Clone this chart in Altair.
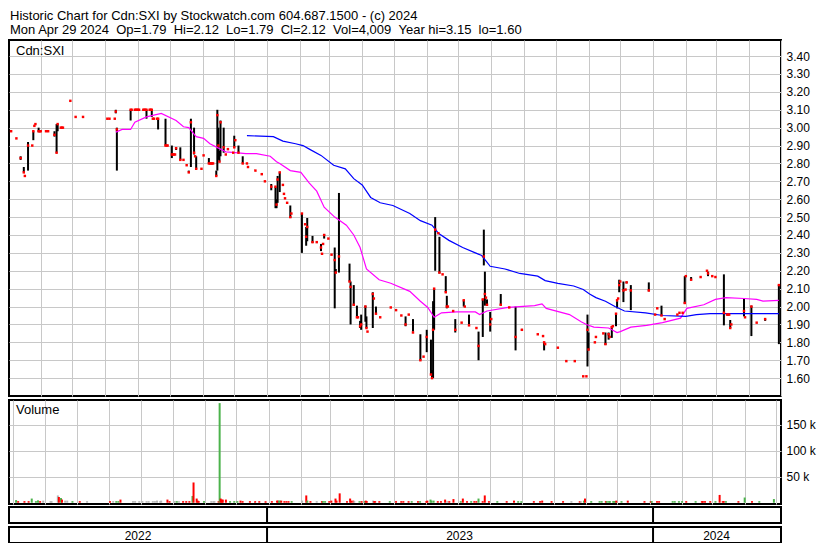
import altair as alt
import pandas as pd

FONT = "Liberation Sans"

# ---------------- price: daily closes ----------------
close_days = [
    "2022-05-04", "2022-05-09", "2022-05-13", "2022-05-16", "2022-05-17", "2022-05-20", "2022-05-24", "2022-05-25", "2022-05-26", "2022-05-27", "2022-05-30", "2022-05-31",
    "2022-06-01", "2022-06-06", "2022-06-08", "2022-06-14", "2022-06-16", "2022-06-17", "2022-06-20", "2022-06-21", "2022-06-22", "2022-06-29",
    "2022-07-04", "2022-07-11",
    "2022-08-03", "2022-08-05", "2022-08-10", "2022-08-11", "2022-08-12", "2022-08-25", "2022-08-26", "2022-08-29", "2022-08-30", "2022-08-31",
    "2022-09-01", "2022-09-02", "2022-09-06", "2022-09-07", "2022-09-08", "2022-09-09", "2022-09-12", "2022-09-13", "2022-09-14", "2022-09-15", "2022-09-16", "2022-09-19", "2022-09-20", "2022-09-27", "2022-09-28", "2022-09-29",
    "2022-10-03", "2022-10-04", "2022-10-05", "2022-10-06", "2022-10-07", "2022-10-11", "2022-10-14", "2022-10-17", "2022-10-19", "2022-10-21", "2022-10-24", "2022-10-25", "2022-10-26", "2022-10-31",
    "2022-11-02", "2022-11-07", "2022-11-08", "2022-11-09", "2022-11-10", "2022-11-11", "2022-11-14", "2022-11-15", "2022-11-16", "2022-11-17", "2022-11-18", "2022-11-21", "2022-11-23", "2022-11-25", "2022-11-30",
    "2022-12-01", "2022-12-02", "2022-12-05", "2022-12-09", "2022-12-13", "2022-12-14", "2022-12-21", "2022-12-27", "2022-12-30",
    "2023-01-05", "2023-01-09", "2023-01-10", "2023-01-11", "2023-01-13", "2023-01-16", "2023-01-17", "2023-01-18", "2023-01-20", "2023-01-23", "2023-01-24",
    "2023-02-03", "2023-02-06", "2023-02-07", "2023-02-08", "2023-02-13", "2023-02-17", "2023-02-21", "2023-02-22", "2023-02-23", "2023-02-24", "2023-02-28",
    "2023-03-03", "2023-03-06", "2023-03-07", "2023-03-10", "2023-03-20", "2023-03-21", "2023-03-24", "2023-03-27", "2023-03-28", "2023-03-30", "2023-03-31",
    "2023-04-04", "2023-04-05", "2023-04-06", "2023-04-11", "2023-04-12", "2023-04-14", "2023-04-18", "2023-04-28",
    "2023-05-03", "2023-05-08", "2023-05-12", "2023-05-15", "2023-05-19", "2023-05-26", "2023-05-29",
    "2023-06-01", "2023-06-05", "2023-06-06", "2023-06-07", "2023-06-08", "2023-06-09", "2023-06-12", "2023-06-13", "2023-06-16", "2023-06-19", "2023-06-20", "2023-06-21", "2023-06-26", "2023-06-28",
    "2023-07-04", "2023-07-06", "2023-07-07", "2023-07-11", "2023-07-18", "2023-07-20", "2023-07-24", "2023-07-25", "2023-07-26", "2023-07-27", "2023-07-28", "2023-07-31",
    "2023-08-01", "2023-08-10", "2023-08-18", "2023-08-24", "2023-08-30",
    "2023-09-14", "2023-09-19", "2023-09-20", "2023-09-21",
    "2023-10-03", "2023-10-11", "2023-10-19", "2023-10-27", "2023-10-30", "2023-10-31",
    "2023-11-01", "2023-11-07", "2023-11-08", "2023-11-15", "2023-11-17", "2023-11-20", "2023-11-21", "2023-11-23", "2023-11-24", "2023-11-27", "2023-11-28", "2023-11-29", "2023-11-30",
    "2023-12-01", "2023-12-04", "2023-12-06", "2023-12-07", "2023-12-11", "2023-12-28",
    "2024-01-03", "2024-01-05", "2024-01-09", "2024-01-12", "2024-01-24", "2024-01-26", "2024-01-29", "2024-01-31",
    "2024-02-01", "2024-02-06", "2024-02-15", "2024-02-21", "2024-02-22", "2024-02-26", "2024-02-29",
    "2024-03-08", "2024-03-11", "2024-03-12", "2024-03-13", "2024-03-14", "2024-03-15", "2024-03-27", "2024-03-28",
    "2024-04-03", "2024-04-08", "2024-04-16", "2024-04-29",
]
close_vals = [
    2.98, 2.94, 2.83, 2.75, 2.73, 2.90, 2.90, 2.98, 3.01, 3.02, 2.98, 2.98,
    2.98, 2.98, 2.98, 2.96, 2.86, 3.02, 3.00, 3.00, 3.00, 3.15,
    3.06, 3.06,
    3.05, 3.05, 3.05, 3.09, 2.99, 3.10, 3.10, 3.10, 3.10, 3.10,
    3.10, 3.10, 3.10, 3.10, 3.10, 3.10, 3.10, 3.10, 3.10, 3.05, 3.05, 3.05, 3.05, 2.90, 2.90, 2.90,
    2.85, 2.85, 2.85, 2.85, 2.885, 2.82, 2.82, 2.79, 2.75, 3.03, 2.86, 2.84, 2.77, 2.77,
    2.845, 2.80, 2.80, 2.80, 2.80, 2.80, 2.73, 3.07, 2.90, 2.81, 3.03, 2.89, 2.85, 2.88, 2.86,
    2.89, 2.93, 2.86, 2.80, 2.80, 2.78, 2.76, 2.74, 2.70,
    2.67, 2.67, 2.57, 2.71, 2.75, 2.68, 2.63, 2.605, 2.58, 2.50, 2.52,
    2.52, 2.46, 2.39, 2.445, 2.36, 2.36, 2.33, 2.295, 2.35, 2.40, 2.38,
    2.29, 2.26, 2.19, 2.28, 2.14, 2.11, 2.01, 1.94, 1.94, 1.89, 1.90,
    2.00, 1.88, 1.86, 2.07, 2.045, 1.96, 1.94, 1.995,
    1.98, 1.95, 1.90, 1.955, 1.855, 1.70, 1.72,
    1.83, 1.62, 1.60, 1.87, 2.10, 2.43, 2.41, 2.19, 2.18, 2.08, 2.00, 2.00, 1.975, 1.87,
    1.91, 2.035, 2.00, 1.895, 1.88, 1.78, 2.04, 2.28, 2.07, 2.05, 2.01, 1.90,
    1.93, 2.01, 1.995, 1.83, 1.87,
    1.845, 1.835, 1.80, 1.79,
    1.77, 1.695, 1.695, 1.61, 1.61, 1.87,
    1.76, 1.80, 1.83, 1.85, 1.79, 1.845, 1.83, 1.885, 1.89, 1.96, 2.035, 2.045, 2.12,
    2.14, 2.09, 2.095, 2.135, 2.09, 2.09,
    1.955, 1.99, 1.95, 1.93, 1.955, 1.965, 1.965, 2.02,
    2.17, 2.15, 2.165, 2.20, 2.185, 2.17, 2.165,
    1.965, 1.955, 1.955, 1.955, 1.88, 1.90, 1.975, 1.94,
    2.00, 1.91, 1.93, 2.12,
]

# ---------------- price: daily low-high ranges ----------------
bar_days = [
    "2022-05-13", "2022-05-16", "2022-05-20", "2022-05-25", "2022-05-30",
    "2022-06-14", "2022-06-16", "2022-06-17",
    "2022-08-11", "2022-08-12", "2022-08-25",
    "2022-09-09", "2022-09-14", "2022-09-20", "2022-09-27",
    "2022-10-03", "2022-10-07", "2022-10-11", "2022-10-19", "2022-10-21", "2022-10-24", "2022-10-26",
    "2022-11-07", "2022-11-14", "2022-11-15", "2022-11-16", "2022-11-17", "2022-11-18", "2022-11-21",
    "2022-12-01", "2022-12-05", "2022-12-09",
    "2023-01-05", "2023-01-09", "2023-01-10", "2023-01-11", "2023-01-13", "2023-01-23",
    "2023-02-03", "2023-02-07", "2023-02-08", "2023-02-13", "2023-02-21", "2023-02-24",
    "2023-03-06", "2023-03-07", "2023-03-10", "2023-03-20", "2023-03-21", "2023-03-24", "2023-03-27", "2023-03-30", "2023-03-31",
    "2023-04-04", "2023-04-05", "2023-04-11", "2023-04-14",
    "2023-05-12", "2023-05-19", "2023-05-26",
    "2023-06-01", "2023-06-05", "2023-06-06", "2023-06-07", "2023-06-08", "2023-06-09", "2023-06-13", "2023-06-19", "2023-06-20", "2023-06-28",
    "2023-07-06", "2023-07-11", "2023-07-20", "2023-07-24", "2023-07-25", "2023-07-26", "2023-07-28", "2023-07-31",
    "2023-08-10", "2023-08-24", "2023-08-30",
    "2023-09-20",
    "2023-10-31",
    "2023-11-01", "2023-11-17", "2023-11-20", "2023-11-23", "2023-11-27", "2023-11-28", "2023-11-30",
    "2023-12-04", "2023-12-07", "2023-12-11", "2023-12-28",
    "2024-01-09", "2024-01-31",
    "2024-02-06", "2024-02-22",
    "2024-03-08", "2024-03-14", "2024-03-27",
    "2024-04-03", "2024-04-16", "2024-04-29",
]
bar_lo = [
    2.82, 2.75, 2.76, 2.93, 2.975,
    2.95, 2.86, 2.98,
    3.08, 2.76, 3.04,
    3.05, 3.06, 2.99, 2.90,
    2.83, 2.875, 2.82, 2.75, 2.78, 2.85, 2.77,
    2.80, 2.73, 2.76, 2.82, 2.81, 2.84, 2.86,
    2.89, 2.86, 2.80,
    2.65, 2.55, 2.55, 2.58, 2.64, 2.495,
    2.30, 2.34, 2.365, 2.355, 2.31, 2.38,
    1.99, 2.19, 2.19, 2.14, 1.90, 2.005, 1.945, 1.88, 1.87,
    1.915, 1.88, 1.88, 1.96,
    1.89, 1.86, 1.70,
    1.745, 1.62, 1.60, 1.60, 1.87, 2.20, 2.185, 2.08, 1.99, 1.855,
    2.00, 1.90, 1.70, 1.83, 2.23, 2.005, 2.005, 1.86,
    2.005, 1.755, 1.865,
    1.755,
    1.665,
    1.755, 1.785, 1.815, 1.825, 1.89, 1.99, 2.08,
    2.025, 2.13, 1.98, 2.085,
    1.95, 2.015,
    2.15, 2.17,
    1.895, 1.88, 1.945,
    1.835, 1.92, 1.79,
]
bar_hi = [
    2.84, 2.78, 2.92, 2.98, 3.00,
    2.98, 3.02, 3.02,
    3.10, 3.00, 3.10,
    3.10, 3.10, 3.05, 3.05,
    2.90, 2.89, 2.89, 2.76, 3.05, 3.00, 2.84,
    2.83, 2.76, 3.10, 3.00, 2.87, 3.04, 3.00,
    2.955, 2.90, 2.84,
    2.685, 2.67, 2.60, 2.73, 2.75, 2.565,
    2.52, 2.445, 2.495, 2.395, 2.35, 2.405,
    2.33, 2.21, 2.635, 2.24, 2.14, 2.12, 2.005, 1.92, 1.955,
    2.005, 1.945, 2.08, 2.00,
    1.945, 1.93, 1.845,
    1.87, 1.815, 1.645, 2.03, 2.10, 2.50, 2.39, 2.17, 2.06, 1.93,
    2.035, 1.955, 1.86, 2.04, 2.43, 2.195, 2.04, 1.97,
    2.07, 2.00, 1.875,
    1.80,
    1.955,
    1.855, 1.855, 1.855, 1.89, 1.96, 2.03, 2.15,
    2.14, 2.14, 2.12, 2.135,
    2.005, 2.17,
    2.165, 2.195,
    2.18, 1.925, 2.045,
    2.005, 1.93, 2.12,
]

# ---------------- moving averages ----------------
ma_short_days = [
    "2022-08-11", "2022-08-17", "2022-08-25", "2022-08-29", "2022-09-09", "2022-09-23", "2022-10-07", "2022-10-14",
    "2022-10-19", "2022-10-26", "2022-11-02", "2022-11-08", "2022-11-18", "2022-11-23", "2022-12-02", "2022-12-12",
    "2022-12-22", "2023-01-04", "2023-01-10", "2023-01-13", "2023-01-23", "2023-02-02", "2023-02-10", "2023-02-17",
    "2023-02-24", "2023-03-06", "2023-03-17", "2023-03-24", "2023-03-30", "2023-04-05", "2023-04-17", "2023-04-28",
    "2023-05-16", "2023-05-26", "2023-06-02", "2023-06-08", "2023-06-15", "2023-06-29", "2023-07-17", "2023-07-21",
    "2023-07-28", "2023-08-17", "2023-09-11", "2023-09-18", "2023-09-22", "2023-10-14", "2023-10-25", "2023-10-30",
    "2023-11-06", "2023-11-20", "2023-11-28", "2023-12-01", "2023-12-11", "2023-12-26", "2024-01-10", "2024-01-27",
    "2024-02-02", "2024-02-18", "2024-02-29", "2024-03-10", "2024-03-27", "2024-04-08", "2024-04-14", "2024-04-29",
]
ma_short_vals = [
    2.975, 2.99, 2.99, 3.03, 3.06, 3.08, 3.04, 3.005,
    3.00, 2.95, 2.94, 2.91, 2.88, 2.865, 2.86, 2.855,
    2.855, 2.84, 2.81, 2.80, 2.76, 2.75, 2.69, 2.645,
    2.555, 2.50, 2.455, 2.40, 2.33, 2.21, 2.15, 2.13,
    2.085, 2.03, 1.995, 1.94, 1.965, 1.97, 1.97, 1.955,
    1.975, 1.995, 2.005, 2.015, 1.99, 1.955, 1.915, 1.90,
    1.885, 1.88, 1.855, 1.86, 1.885, 1.895, 1.91, 1.935,
    1.99, 2.01, 2.04, 2.05, 2.045, 2.04, 2.03, 2.035,
]
ma_long_days = [
    "2022-12-13", "2023-01-07", "2023-01-16", "2023-01-28", "2023-02-04", "2023-02-10", "2023-02-21", "2023-03-05",
    "2023-03-16", "2023-03-24", "2023-04-01", "2023-04-09", "2023-04-18", "2023-04-30", "2023-05-16", "2023-05-26",
    "2023-06-06", "2023-06-12", "2023-06-22", "2023-07-05", "2023-07-17", "2023-07-23", "2023-07-31", "2023-08-14",
    "2023-08-28", "2023-09-14", "2023-09-21", "2023-10-03", "2023-10-18", "2023-10-27", "2023-11-02", "2023-11-08",
    "2023-11-17", "2023-11-26", "2023-12-05", "2023-12-25", "2024-01-10", "2024-02-01", "2024-02-11", "2024-02-24",
    "2024-03-18", "2024-04-29",
]
ma_long_vals = [
    2.955, 2.95, 2.925, 2.91, 2.90, 2.88, 2.845, 2.79,
    2.77, 2.715, 2.68, 2.61, 2.58, 2.565, 2.52, 2.48,
    2.455, 2.41, 2.37, 2.33, 2.30, 2.285, 2.225, 2.21,
    2.185, 2.17, 2.145, 2.13, 2.115, 2.095, 2.07, 2.05,
    2.03, 2.00, 1.975, 1.965, 1.95, 1.945, 1.955, 1.96,
    1.96, 1.96,
]

# ---------------- volume (thousands of shares) ----------------
vol_days = [
    "2022-05-04", "2022-05-06", "2022-05-12", "2022-05-16", "2022-05-19", "2022-05-23", "2022-05-25", "2022-05-27", "2022-05-30",
    "2022-06-06", "2022-06-07", "2022-06-13", "2022-06-14", "2022-06-16", "2022-06-17", "2022-06-20", "2022-06-22", "2022-06-27",
    "2022-07-04", "2022-07-11",
    "2022-08-02", "2022-08-05", "2022-08-08", "2022-08-10", "2022-08-12", "2022-08-24", "2022-08-26", "2022-08-30",
    "2022-09-02", "2022-09-06", "2022-09-08", "2022-09-12", "2022-09-14", "2022-09-16", "2022-09-19", "2022-09-20", "2022-09-26", "2022-09-28",
    "2022-10-03", "2022-10-05", "2022-10-07", "2022-10-11", "2022-10-14", "2022-10-17", "2022-10-20", "2022-10-21", "2022-10-24", "2022-10-25", "2022-10-26", "2022-10-31",
    "2022-11-07", "2022-11-09", "2022-11-10", "2022-11-14", "2022-11-15", "2022-11-16", "2022-11-17", "2022-11-18", "2022-11-21", "2022-11-25", "2022-11-29",
    "2022-12-02", "2022-12-05", "2022-12-07", "2022-12-14", "2022-12-19", "2022-12-23", "2022-12-29",
    "2023-01-04", "2023-01-09", "2023-01-10", "2023-01-11", "2023-01-12", "2023-01-13", "2023-01-16", "2023-01-18", "2023-01-20", "2023-01-23",
    "2023-02-02", "2023-02-06", "2023-02-07", "2023-02-10", "2023-02-16", "2023-02-21", "2023-02-22", "2023-02-24", "2023-02-28",
    "2023-03-02", "2023-03-06", "2023-03-07", "2023-03-10", "2023-03-17", "2023-03-20", "2023-03-21", "2023-03-23", "2023-03-24", "2023-03-29", "2023-03-31",
    "2023-04-03", "2023-04-04", "2023-04-05", "2023-04-11", "2023-04-12", "2023-04-13", "2023-04-17", "2023-04-27",
    "2023-05-03", "2023-05-08", "2023-05-10", "2023-05-15", "2023-05-18", "2023-05-24", "2023-05-26",
    "2023-06-01", "2023-06-02", "2023-06-05", "2023-06-06", "2023-06-08", "2023-06-12", "2023-06-15", "2023-06-19", "2023-06-21", "2023-06-23", "2023-06-27",
    "2023-07-04", "2023-07-06", "2023-07-10", "2023-07-14", "2023-07-17", "2023-07-19", "2023-07-21", "2023-07-25", "2023-07-27", "2023-07-31",
    "2023-08-08", "2023-08-17", "2023-08-24", "2023-08-28", "2023-08-31",
    "2023-09-12", "2023-09-18", "2023-09-20", "2023-09-29",
    "2023-10-10", "2023-10-18", "2023-10-26", "2023-10-27", "2023-10-30", "2023-10-31",
    "2023-11-06", "2023-11-14", "2023-11-16", "2023-11-20", "2023-11-21", "2023-11-23", "2023-11-24", "2023-11-27", "2023-11-28", "2023-11-29", "2023-11-30",
    "2023-12-05", "2023-12-11", "2023-12-27",
    "2024-01-02", "2024-01-03", "2024-01-08", "2024-01-10", "2024-01-23", "2024-01-25", "2024-01-29",
    "2024-02-01", "2024-02-05", "2024-02-14", "2024-02-20", "2024-02-21", "2024-02-23", "2024-02-28",
    "2024-03-04", "2024-03-08", "2024-03-11", "2024-03-12", "2024-03-14", "2024-03-26",
    "2024-04-01", "2024-04-08", "2024-04-15", "2024-04-29",
]
vol_k = [
    5, 3, 3, 3, 8, 3, 4.5, 3, 4,
    3, 3, 14, 11, 9, 6, 4, 4, 3,
    3, 3,
    3, 3, 3, 3, 6, 3, 3, 3,
    3, 3, 3, 3, 3, 4, 3, 4, 6, 3,
    3, 3, 3, 3, 3, 3, 13, 39, 8, 4, 3, 3,
    3, 3, 3, 3, 192, 8, 6, 6, 6, 3, 3,
    3, 4, 3, 3, 3, 3, 3,
    3, 4, 4, 4, 4, 4, 3, 3, 3, 3,
    4, 14, 4, 3, 3, 3, 3, 3, 3,
    4, 8, 4, 18, 3, 8, 4, 4, 3, 3, 3,
    3, 4, 3, 4, 3, 3, 3, 3,
    3, 3, 3, 3, 3, 3, 3,
    3, 4, 6, 4, 4, 3, 3, 6, 3, 3, 7,
    3, 8, 3, 3, 3, 3, 8, 3, 14, 3,
    3, 3, 4, 3, 3,
    3, 3, 4, 3,
    3, 3, 3, 3, 4, 8,
    3, 3, 3, 3, 3, 3, 3, 3, 3, 3, 4,
    3, 4, 3,
    3, 3, 3, 3, 3, 3, 3,
    3, 3, 3, 3, 3, 3, 3,
    3, 15, 3, 3, 3, 3,
    10, 3, 3, 7,
]
vol_dir = [
    "u", "d", "d", "d", "u", "u", "u", "d", "f",
    "f", "f", "f", "d", "u", "d", "f", "f", "u",
    "d", "f",
    "d", "f", "u", "u", "d", "f", "f", "f",
    "f", "f", "f", "f", "f", "f", "f", "f", "d", "d",
    "f", "u", "f", "d", "d", "d", "u", "d", "d", "d", "d", "u",
    "f", "f", "f", "d", "u", "d", "d", "d", "d", "u", "u",
    "u", "d", "d", "d", "d", "d", "d",
    "d", "d", "d", "u", "u", "d", "d", "d", "d", "u",
    "f", "d", "u", "d", "f", "d", "u", "u", "d",
    "d", "d", "d", "d", "d", "d", "d", "d", "f", "u", "d",
    "u", "d", "d", "f", "d", "d", "d", "u",
    "d", "d", "d", "d", "u", "d", "u",
    "d", "d", "u", "u", "u", "d", "d", "d", "f", "d", "d",
    "u", "d", "d", "u", "d", "d", "u", "d", "d", "d",
    "u", "d", "d", "u", "u",
    "d", "d", "d", "d",
    "d", "f", "d", "f", "u", "d",
    "u", "u", "u", "d", "u", "u", "u", "u", "u", "u", "d",
    "u", "d", "d",
    "d", "u", "d", "d", "u", "u", "u",
    "u", "d", "u", "d", "d", "d", "d",
    "u", "d", "d", "d", "u", "d",
    "u", "d", "u", "u",
]

# ---------------- axes / labels ----------------
price_ticks = [1.6, 1.7, 1.8, 1.9, 2.0, 2.1, 2.2, 2.3, 2.4, 2.5, 2.6, 2.7, 2.8, 2.9, 3.0, 3.1, 3.2, 3.3, 3.4]
vol_ticks = [50000, 100000, 150000]
year_names = ["2022", "2023", "2024"]
year_edges = ["2022-05-02", "2023-01-01", "2024-01-01", "2024-05-01"]
title_lines = [
    "Historic Chart for Cdn:SXI by Stockwatch.com 604.687.1500 - (c) 2024",
    "Mon Apr 29 2024\u00a0\u00a0Op=1.79\u00a0\u00a0Hi=2.12\u00a0\u00a0Lo=1.79\u00a0\u00a0Cl=2.12\u00a0\u00a0Vol=4,009\u00a0\u00a0Year hi=3.15\u00a0\u00a0lo=1.60",
]

# ---------------- frames ----------------
closes = pd.DataFrame({"day": close_days, "close": close_vals})
bars = pd.DataFrame({"day": bar_days, "lo": bar_lo, "hi": bar_hi})
ma_s = pd.DataFrame({"day": ma_short_days, "ma": ma_short_vals})
ma_l = pd.DataFrame({"day": ma_long_days, "ma": ma_long_vals})
vol = pd.DataFrame({"day": vol_days, "vol": [v * 1000 for v in vol_k], "dir": vol_dir})
edges = pd.to_datetime(year_edges)
years = pd.DataFrame({
    "year": year_names,
    "mid": [(edges[i] + (edges[i + 1] - edges[i]) / 2).strftime("%Y-%m-%d") for i in range(3)],
})
bounds = pd.DataFrame({"day": year_edges[1:3]})

W = 772
HP = 356
HV = 104
HB = 16

def dt(s):
    t = pd.Timestamp(s)
    return alt.DateTime(year=t.year, month=t.month, date=t.day, utc=True)

xscale = alt.Scale(type="utc", domain=[dt(year_edges[0]), dt(year_edges[-1])])
xaxis = alt.Axis(tickCount={"interval": "month", "step": 1}, grid=True, labels=False,
                 ticks=False, domain=False, title=None)
yscale = alt.Scale(domain=[1.50, 3.49], nice=False, zero=False)
price_axis = alt.Axis(orient="right", values=price_ticks, format=".2f", grid=True, ticks=False,
                      domain=False, title=None, labelPadding=5)

X = alt.X("day:T", scale=xscale, axis=xaxis)

ranges = alt.Chart(bars).mark_rule(color="black", strokeWidth=2).encode(
    x=X, y=alt.Y("lo:Q", scale=yscale, axis=price_axis), y2="hi:Q",
)
line_s = alt.Chart(ma_s).mark_line(color="#ff00ff", strokeWidth=1.2).encode(
    x=X, y=alt.Y("ma:Q", scale=yscale, axis=price_axis),
)
line_l = alt.Chart(ma_l).mark_line(color="#0000ff", strokeWidth=1.2).encode(
    x=X, y=alt.Y("ma:Q", scale=yscale, axis=price_axis),
)
dots = alt.Chart(closes).mark_square(size=6, color="#ff0000", opacity=1).encode(
    x=X, y=alt.Y("close:Q", scale=yscale, axis=price_axis),
)
sym = alt.Chart(pd.DataFrame({"t": ["Cdn:SXI"]})).mark_text(
    align="left", baseline="middle", fontSize=13, color="black"
).encode(x=alt.value(7), y=alt.value(11), text="t:N")

price = alt.layer(ranges, line_s, line_l, dots, sym).properties(width=W, height=HP)

vbars = alt.Chart(vol).mark_bar(size=2).encode(
    x=X,
    y=alt.Y("vol:Q", scale=alt.Scale(domain=[-2500, 198000], nice=False, zero=False),
            axis=alt.Axis(orient="right", values=vol_ticks, labelExpr="datum.value / 1000 + ' k'",
                          grid=True, ticks=False, domain=False, title=None, labelPadding=5)),
    color=alt.Color("dir:N", scale=alt.Scale(domain=["u", "d", "f"],
                                             range=["#4cb34c", "#ff0000", "#b4b4b4"]), legend=None),
)
vlabel = alt.Chart(pd.DataFrame({"t": ["Volume"]})).mark_text(
    align="left", baseline="middle", fontSize=13, color="black"
).encode(x=alt.value(7), y=alt.value(10), text="t:N")
volume = alt.layer(vbars, vlabel).properties(width=W, height=HV)

divider = alt.Chart(bounds).mark_rule(color="black", strokeWidth=2).encode(
    x=alt.X("day:T", scale=xscale, axis=None)
)
band_top = divider.properties(width=W, height=HB)
ylab = alt.Chart(years).mark_text(fontSize=12, color="black", baseline="middle", align="center").encode(
    x=alt.X("mid:T", scale=xscale, axis=None),
    y=alt.value(HB / 2 + 1),
    text="year:N",
)
band_bot = alt.layer(divider, ylab).properties(width=W, height=HB)

lower = alt.vconcat(volume, band_top, band_bot, spacing=0)

chart = alt.vconcat(price, lower, spacing=2).properties(
    title=alt.TitleParams(text=title_lines, anchor="start", fontSize=13, font=FONT,
                          fontWeight="normal", color="black", offset=2, lineHeight=14, dx=2),
    padding={"left": 0, "top": 2, "right": 0, "bottom": 0},
).configure_view(
    stroke="black", strokeWidth=2
).configure_axis(
    gridColor="#c8c8c8", gridWidth=1, labelFont=FONT, labelFontSize=12, labelColor="black"
).configure_text(font=FONT)

chart.save("out.html", embed_options={"renderer": "svg", "actions": False})
